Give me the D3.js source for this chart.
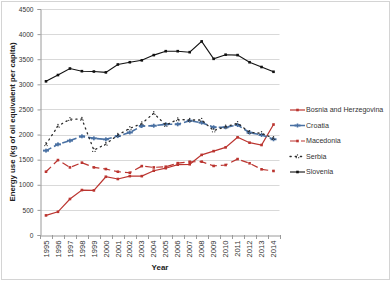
<!DOCTYPE html>
<html>
<head>
<meta charset="utf-8">
<script src="https://cdn.jsdelivr.net/npm/d3@7"></script>
<style>
  body { margin: 0; background: #fff; }
  svg { display: block; font-family: "Liberation Sans", Arial, sans-serif; }
</style>
</head>
<body>
<svg id="chart" width="392" height="281"></svg>
<script>
var years = ["1995", "1996", "1997", "1998", "1999", "2000", "2001", "2002", "2003", "2004",
             "2005", "2006", "2007", "2008", "2009", "2010", "2011", "2012", "2013", "2014"];
var yTicks = [0, 500, 1000, 1500, 2000, 2500, 3000, 3500, 4000, 4500];

var bosnia    = [390, 462, 717, 895, 888, 1160, 1115, 1172, 1172, 1280, 1330, 1400, 1408, 1595, 1670, 1745, 1945, 1838, 1792, 2200];
var croatia   = [1680, 1805, 1878, 1965, 1925, 1905, 1970, 2042, 2170, 2176, 2204, 2204, 2275, 2237, 2145, 2145, 2190, 2038, 1992, 1906];
var macedonia = [1260, 1492, 1346, 1440, 1346, 1313, 1260, 1240, 1372, 1346, 1360, 1430, 1458, 1460, 1375, 1394, 1512, 1428, 1308, 1275];
var serbia    = [1805, 2170, 2305, 2310, 1688, 1812, 1990, 2124, 2220, 2424, 2190, 2300, 2290, 2290, 2078, 2156, 2225, 2045, 2025, 1926];
var slovenia  = [3060, 3185, 3315, 3262, 3255, 3238, 3395, 3440, 3478, 3582, 3660, 3660, 3640, 3855, 3508, 3590, 3582, 3440, 3345, 3250];

var series = [
    {name: "Bosnia and Herzegovina", values: bosnia, color: "#bb3530", dash: null, width: 1.2, marker: "sq"},
    {name: "Croatia", values: croatia, color: "#4a71a3", dash: "6,3", width: 1.6, marker: "bar"},
    {name: "Macedonia", values: macedonia, color: "#bb3530", dash: "7,4", width: 1.2, marker: "sq"},
    {name: "Serbia", values: serbia, color: "#2b2b2b", dash: "1.2,4", width: 1.3, marker: "dot"},
    {name: "Slovenia", values: slovenia, color: "#111111", dash: null, width: 1.1, marker: "sq"}
];

var svg = d3.select("#chart");

// outer frame
svg.append("rect")
    .attr("x", 1.5).attr("y", 1.5)
    .attr("width", 388).attr("height", 278)
    .attr("fill", "none")
    .attr("stroke", "#d4d4d4")
    .attr("stroke-width", 1);

var plotLeft = 40, plotRight = 279.5, plotTop = 9, plotBottom = 235;

var x = d3.scaleBand().domain(years).range([plotLeft, plotRight]).padding(0);
var y = d3.scaleLinear().domain([0, 4500]).range([plotBottom, plotTop]);

function cx(i) { return x(years[i]) + x.bandwidth() / 2; }

// gridlines
svg.append("g")
    .selectAll("line")
    .data(yTicks.filter(function (d) { return d > 0; }))
    .enter().append("line")
    .attr("x1", plotLeft).attr("x2", plotRight)
    .attr("y1", function (d) { return Math.round(y(d)) + 0.5; })
    .attr("y2", function (d) { return Math.round(y(d)) + 0.5; })
    .attr("stroke", "#d9d9d9")
    .attr("stroke-width", 1);

// y axis
var yAxis = svg.append("g")
    .attr("transform", "translate(" + (plotLeft + 0.5) + ",0)")
    .call(d3.axisLeft(y).tickValues(yTicks).tickFormat(d3.format("d")).tickSize(3).tickPadding(4));
yAxis.select(".domain").attr("stroke", "#9a9a9a");
yAxis.selectAll(".tick line").attr("stroke", "#9a9a9a");
yAxis.selectAll(".tick text")
    .attr("font-size", "6.6px")
    .attr("fill", "#333");

// x axis
var xAxis = svg.append("g")
    .attr("transform", "translate(0," + (plotBottom + 0.5) + ")")
    .call(d3.axisBottom(x).tickSize(0).tickPadding(4));
xAxis.select(".domain").attr("stroke", "#9a9a9a");
xAxis.selectAll(".tick text")
    .attr("font-size", "7.6px")
    .attr("fill", "#333")
    .attr("transform", "rotate(-90)")
    .attr("text-anchor", "end")
    .attr("x", -5)
    .attr("y", 0)
    .attr("dy", "0.35em");

// category boundary ticks
svg.append("g")
    .selectAll("line")
    .data(years.concat(["end"]))
    .enter().append("line")
    .attr("x1", function (d, i) { return Math.round(plotLeft + i * x.bandwidth()) + 0.5; })
    .attr("x2", function (d, i) { return Math.round(plotLeft + i * x.bandwidth()) + 0.5; })
    .attr("y1", plotBottom).attr("y2", plotBottom + 4)
    .attr("stroke", "#9a9a9a");

// axis titles
svg.append("text")
    .attr("transform", "translate(15," + ((plotTop + plotBottom) / 2) + ") rotate(-90)")
    .attr("text-anchor", "middle")
    .attr("font-size", "7.8px")
    .attr("font-weight", "bold")
    .attr("fill", "#222")
    .text("Energy use (kg of oil equivalent per capita)");

svg.append("text")
    .attr("x", 160).attr("y", 270)
    .attr("text-anchor", "middle")
    .attr("font-size", "8px")
    .attr("font-weight", "bold")
    .attr("fill", "#222")
    .text("Year");

var line = d3.line()
    .x(function (d, i) { return cx(i); })
    .y(function (d) { return y(d); });

function drawMarker(g, type, px, py, color) {
    if (type === "sq") {
        g.append("rect").attr("x", px - 1.3).attr("y", py - 1.3)
            .attr("width", 2.6).attr("height", 2.6).attr("fill", color);
    } else if (type === "bar") {
        g.append("rect").attr("x", px - 3).attr("y", py - 1)
            .attr("width", 6).attr("height", 2).attr("fill", color);
        g.append("rect").attr("x", px - 0.8).attr("y", py - 2)
            .attr("width", 1.6).attr("height", 4).attr("fill", color);
    } else {
        g.append("circle").attr("cx", px).attr("cy", py - 1.6).attr("r", 0.7).attr("fill", color);
        g.append("circle").attr("cx", px - 1.2).attr("cy", py + 1.2).attr("r", 0.6).attr("fill", color);
        g.append("circle").attr("cx", px + 1.2).attr("cy", py + 1.2).attr("r", 0.6).attr("fill", color);
    }
}

series.forEach(function (s) {
    var g = svg.append("g");
    g.append("path")
        .datum(s.values)
        .attr("d", line)
        .attr("fill", "none")
        .attr("stroke", s.color)
        .attr("stroke-width", s.width)
        .attr("stroke-linecap", s.marker === "dot" ? "round" : "butt")
        .attr("stroke-dasharray", s.dash);
    s.values.forEach(function (v, i) {
        drawMarker(g, s.marker, cx(i), y(v), s.color);
    });
});

// legend
var legend = svg.append("g");
series.forEach(function (s, i) {
    var ly = 110 + i * 15.5;
    var lg = legend.append("g");
    lg.append("line")
        .attr("x1", 290).attr("x2", 305)
        .attr("y1", ly).attr("y2", ly)
        .attr("stroke", s.color)
        .attr("stroke-width", s.width)
        .attr("stroke-linecap", s.marker === "dot" ? "round" : "butt")
        .attr("stroke-dasharray", s.dash);
    drawMarker(lg, s.marker, 297.5, ly, s.color);
    lg.append("text")
        .attr("x", 306).attr("y", ly)
        .attr("dy", "0.35em")
        .attr("font-size", "7.1px")
        .attr("fill", "#333")
        .text(s.name);
});
</script>
</body>
</html>
